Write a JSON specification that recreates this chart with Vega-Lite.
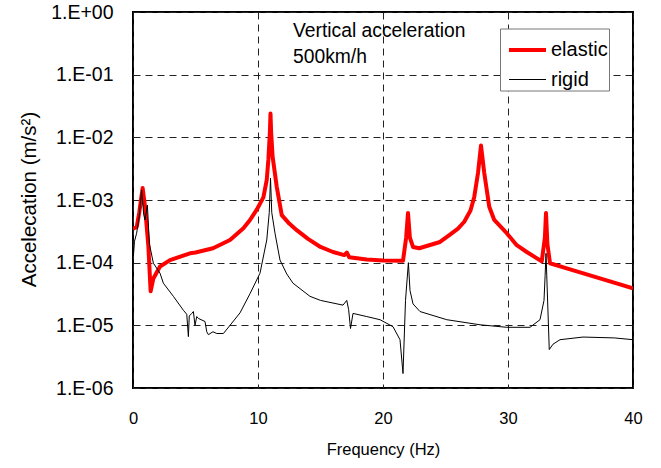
{
  "$schema": "https://vega.github.io/schema/vega-lite/v6.json",
  "width": 500,
  "height": 376,
  "autosize": {"type": "none"},
  "padding": {"left": 133, "top": 12, "right": 28, "bottom": 80},
  "background": "white",
  "config": {
    "view": {"stroke": "black", "strokeWidth": 2},
    "font": "Liberation Sans",
    "axis": {"labelFont": "Liberation Sans", "titleFont": "Liberation Sans", "labelColor": "black", "titleColor": "black", "titleFontWeight": "normal", "domain": false, "ticks": false, "gridColor": "#222", "gridDash": [7, 5], "gridWidth": 1, "gridOpacity": 1},
    "legend": {"labelFont": "Liberation Sans", "labelFontSize": 20, "labelColor": "black"}
  },
  "layer": [
    {
      "data": {"values": [
        {"f": 0, "a": 3.47e-4, "s": "elastic"},
        {"f": 0.3, "a": 3.72e-4, "s": "elastic"},
        {"f": 0.5, "a": 6.3e-4, "s": "elastic"},
        {"f": 0.77, "a": 1.55e-3, "s": "elastic"},
        {"f": 0.96, "a": 7.9e-4, "s": "elastic"},
        {"f": 1.23, "a": 1.82e-4, "s": "elastic"},
        {"f": 1.41, "a": 3.5e-5, "s": "elastic"},
        {"f": 1.63, "a": 5.6e-5, "s": "elastic"},
        {"f": 2.16, "a": 8.7e-5, "s": "elastic"},
        {"f": 2.96, "a": 1.1e-4, "s": "elastic"},
        {"f": 4.56, "a": 1.41e-4, "s": "elastic"},
        {"f": 5.0, "a": 1.45e-4, "s": "elastic"},
        {"f": 6.4, "a": 1.7e-4, "s": "elastic"},
        {"f": 7.76, "a": 2.3e-4, "s": "elastic"},
        {"f": 8.83, "a": 3.55e-4, "s": "elastic"},
        {"f": 9.36, "a": 4.8e-4, "s": "elastic"},
        {"f": 9.9, "a": 7.0e-4, "s": "elastic"},
        {"f": 10.43, "a": 1.1e-3, "s": "elastic"},
        {"f": 10.7, "a": 2.1e-3, "s": "elastic"},
        {"f": 10.83, "a": 4.4e-3, "s": "elastic"},
        {"f": 10.95, "a": 1.2e-2, "s": "elastic"},
        {"f": 11.0, "a": 2.4e-2, "s": "elastic"},
        {"f": 11.05, "a": 1.2e-2, "s": "elastic"},
        {"f": 11.17, "a": 4.9e-3, "s": "elastic"},
        {"f": 11.5, "a": 1.62e-3, "s": "elastic"},
        {"f": 11.9, "a": 5.75e-4, "s": "elastic"},
        {"f": 12.5, "a": 4.2e-4, "s": "elastic"},
        {"f": 13.1, "a": 3.3e-4, "s": "elastic"},
        {"f": 14.0, "a": 2.4e-4, "s": "elastic"},
        {"f": 15.0, "a": 1.78e-4, "s": "elastic"},
        {"f": 16.0, "a": 1.48e-4, "s": "elastic"},
        {"f": 16.9, "a": 1.32e-4, "s": "elastic"},
        {"f": 17.1, "a": 1.45e-4, "s": "elastic"},
        {"f": 17.3, "a": 1.22e-4, "s": "elastic"},
        {"f": 18.7, "a": 1.12e-4, "s": "elastic"},
        {"f": 20.0, "a": 1.08e-4, "s": "elastic"},
        {"f": 21.6, "a": 1.07e-4, "s": "elastic"},
        {"f": 21.85, "a": 2.5e-4, "s": "elastic"},
        {"f": 22.0, "a": 6.2e-4, "s": "elastic"},
        {"f": 22.15, "a": 2.5e-4, "s": "elastic"},
        {"f": 22.4, "a": 1.78e-4, "s": "elastic"},
        {"f": 22.9, "a": 1.7e-4, "s": "elastic"},
        {"f": 24.56, "a": 2.14e-4, "s": "elastic"},
        {"f": 25.36, "a": 2.8e-4, "s": "elastic"},
        {"f": 26.0, "a": 3.5e-4, "s": "elastic"},
        {"f": 26.5, "a": 4.5e-4, "s": "elastic"},
        {"f": 27.0, "a": 6.8e-4, "s": "elastic"},
        {"f": 27.3, "a": 1.12e-3, "s": "elastic"},
        {"f": 27.6, "a": 2.7e-3, "s": "elastic"},
        {"f": 27.84, "a": 7.4e-3, "s": "elastic"},
        {"f": 28.1, "a": 2.7e-3, "s": "elastic"},
        {"f": 28.5, "a": 7.8e-4, "s": "elastic"},
        {"f": 28.9, "a": 4.8e-4, "s": "elastic"},
        {"f": 29.9, "a": 2.95e-4, "s": "elastic"},
        {"f": 30.7, "a": 1.9e-4, "s": "elastic"},
        {"f": 31.5, "a": 1.48e-4, "s": "elastic"},
        {"f": 32.7, "a": 1.05e-4, "s": "elastic"},
        {"f": 32.95, "a": 2.5e-4, "s": "elastic"},
        {"f": 33.04, "a": 6.2e-4, "s": "elastic"},
        {"f": 33.15, "a": 2.0e-4, "s": "elastic"},
        {"f": 33.36, "a": 9.8e-5, "s": "elastic"},
        {"f": 34.7, "a": 8.1e-5, "s": "elastic"},
        {"f": 37.36, "a": 5.6e-5, "s": "elastic"},
        {"f": 40.0, "a": 3.9e-5, "s": "elastic"},
        {"f": 0.03, "a": 1.26e-4, "s": "rigid"},
        {"f": 0.12, "a": 2.2e-4, "s": "rigid"},
        {"f": 0.29, "a": 2.95e-4, "s": "rigid"},
        {"f": 0.5, "a": 5.5e-4, "s": "rigid"},
        {"f": 0.69, "a": 1.45e-3, "s": "rigid"},
        {"f": 0.85, "a": 6.0e-4, "s": "rigid"},
        {"f": 0.96, "a": 4.8e-4, "s": "rigid"},
        {"f": 1.15, "a": 8.3e-4, "s": "rigid"},
        {"f": 1.31, "a": 2.0e-4, "s": "rigid"},
        {"f": 1.63, "a": 9.8e-5, "s": "rigid"},
        {"f": 2.16, "a": 6.8e-5, "s": "rigid"},
        {"f": 2.43, "a": 4.7e-5, "s": "rigid"},
        {"f": 3.23, "a": 2.9e-5, "s": "rigid"},
        {"f": 4.03, "a": 1.74e-5, "s": "rigid"},
        {"f": 4.3, "a": 1.5e-5, "s": "rigid"},
        {"f": 4.43, "a": 6.6e-6, "s": "rigid"},
        {"f": 4.5, "a": 1.41e-5, "s": "rigid"},
        {"f": 4.7, "a": 1.55e-5, "s": "rigid"},
        {"f": 4.83, "a": 1.66e-5, "s": "rigid"},
        {"f": 4.96, "a": 1.0e-5, "s": "rigid"},
        {"f": 5.1, "a": 1.38e-5, "s": "rigid"},
        {"f": 5.23, "a": 1.29e-5, "s": "rigid"},
        {"f": 5.76, "a": 1.15e-5, "s": "rigid"},
        {"f": 5.9, "a": 7.9e-6, "s": "rigid"},
        {"f": 6.03, "a": 7.1e-6, "s": "rigid"},
        {"f": 6.4, "a": 7.9e-6, "s": "rigid"},
        {"f": 6.7, "a": 7.4e-6, "s": "rigid"},
        {"f": 7.23, "a": 7.4e-6, "s": "rigid"},
        {"f": 7.76, "a": 1.0e-5, "s": "rigid"},
        {"f": 8.56, "a": 1.58e-5, "s": "rigid"},
        {"f": 9.36, "a": 3.2e-5, "s": "rigid"},
        {"f": 10.16, "a": 6.8e-5, "s": "rigid"},
        {"f": 10.7, "a": 2.3e-4, "s": "rigid"},
        {"f": 10.9, "a": 6.3e-4, "s": "rigid"},
        {"f": 11.0, "a": 2.24e-3, "s": "rigid"},
        {"f": 11.1, "a": 6.3e-4, "s": "rigid"},
        {"f": 11.36, "a": 2.95e-4, "s": "rigid"},
        {"f": 11.76, "a": 1.1e-4, "s": "rigid"},
        {"f": 12.3, "a": 6.6e-5, "s": "rigid"},
        {"f": 12.8, "a": 4.7e-5, "s": "rigid"},
        {"f": 14.16, "a": 2.9e-5, "s": "rigid"},
        {"f": 15.0, "a": 2.5e-5, "s": "rigid"},
        {"f": 16.8, "a": 2.1e-5, "s": "rigid"},
        {"f": 17.1, "a": 2.5e-5, "s": "rigid"},
        {"f": 17.25, "a": 1.78e-5, "s": "rigid"},
        {"f": 17.4, "a": 8.9e-6, "s": "rigid"},
        {"f": 17.6, "a": 1.55e-5, "s": "rigid"},
        {"f": 18.7, "a": 1.38e-5, "s": "rigid"},
        {"f": 19.76, "a": 1.23e-5, "s": "rigid"},
        {"f": 20.8, "a": 9.5e-6, "s": "rigid"},
        {"f": 21.36, "a": 5.9e-6, "s": "rigid"},
        {"f": 21.6, "a": 1.7e-6, "s": "rigid"},
        {"f": 21.8, "a": 2.5e-5, "s": "rigid"},
        {"f": 22.03, "a": 1.0e-4, "s": "rigid"},
        {"f": 22.16, "a": 3.6e-5, "s": "rigid"},
        {"f": 22.4, "a": 2.2e-5, "s": "rigid"},
        {"f": 22.96, "a": 1.66e-5, "s": "rigid"},
        {"f": 25.1, "a": 1.23e-5, "s": "rigid"},
        {"f": 27.76, "a": 1.02e-5, "s": "rigid"},
        {"f": 29.9, "a": 9.3e-6, "s": "rigid"},
        {"f": 31.76, "a": 9.3e-6, "s": "rigid"},
        {"f": 32.56, "a": 1.23e-5, "s": "rigid"},
        {"f": 32.88, "a": 2.5e-5, "s": "rigid"},
        {"f": 32.97, "a": 6.3e-5, "s": "rigid"},
        {"f": 33.04, "a": 1.41e-4, "s": "rigid"},
        {"f": 33.3, "a": 4.1e-6, "s": "rigid"},
        {"f": 33.6, "a": 5.0e-6, "s": "rigid"},
        {"f": 34.16, "a": 5.9e-6, "s": "rigid"},
        {"f": 36.0, "a": 6.5e-6, "s": "rigid"},
        {"f": 38.5, "a": 6.3e-6, "s": "rigid"},
        {"f": 40.0, "a": 5.9e-6, "s": "rigid"}
      ]},
      "mark": {"type": "line", "strokeJoin": "round", "clip": true},
      "encoding": {
        "x": {"field": "f", "type": "quantitative", "scale": {"domain": [0, 40], "nice": false, "zero": false},
              "axis": {"title": "Frequency (Hz)", "values": [0, 10, 20, 30, 40], "labelFlush": false, "labelFontSize": 16.5, "titleFontSize": 16.5, "labelPadding": 22, "titleY": 61, "titleBaseline": "middle"}},
        "y": {"field": "a", "type": "quantitative", "scale": {"type": "log", "domain": [1e-6, 1], "nice": false},
              "axis": {"title": "Accelecation (m/s²)", "values": [1e-6, 1e-5, 1e-4, 1e-3, 1e-2, 1e-1, 1],
                       "labelExpr": "datum.value >= 1 ? '1.E+00' : '1.E-0' + round(-log(datum.value)/LN10)",
                       "labelFontSize": 19.5, "titleFontSize": 20.5, "labelPadding": 20, "titleX": -104, "titleY": 187, "titleAngle": -90, "titleAlign": "center", "titleBaseline": "middle"}},
        "color": {"field": "s", "type": "nominal", "scale": {"domain": ["elastic", "rigid"], "range": ["#ff0000", "#000000"]},
                  "legend": {"title": null, "orient": "none", "legendX": 367, "legendY": 16.5, "symbolType": "stroke", "symbolSize": 1369, "symbolOffset": 6, "strokeColor": "#777", "fillColor": "white", "padding": 1, "labelOffset": 3, "rowPadding": 0}},
        "strokeWidth": {"field": "s", "type": "nominal", "scale": {"domain": ["elastic", "rigid"], "range": [4, 1]},
                        "legend": {"title": null, "orient": "none", "legendX": 367, "legendY": 16.5, "symbolType": "stroke", "symbolSize": 1369, "symbolOffset": 6, "strokeColor": "#777", "fillColor": "white", "padding": 1, "labelOffset": 3, "rowPadding": 0}}
      }
    },
    {
      "data": {"values": [
        {"f": 12.8, "a": 0.50, "t": "Vertical acceleration"},
        {"f": 12.8, "a": 0.188, "t": "500km/h"}
      ]},
      "mark": {"type": "text", "align": "left", "baseline": "middle", "fontSize": 19.3, "font": "Liberation Sans", "color": "black"},
      "encoding": {
        "x": {"field": "f", "type": "quantitative"},
        "y": {"field": "a", "type": "quantitative"},
        "text": {"field": "t"}
      }
    }
  ]
}
